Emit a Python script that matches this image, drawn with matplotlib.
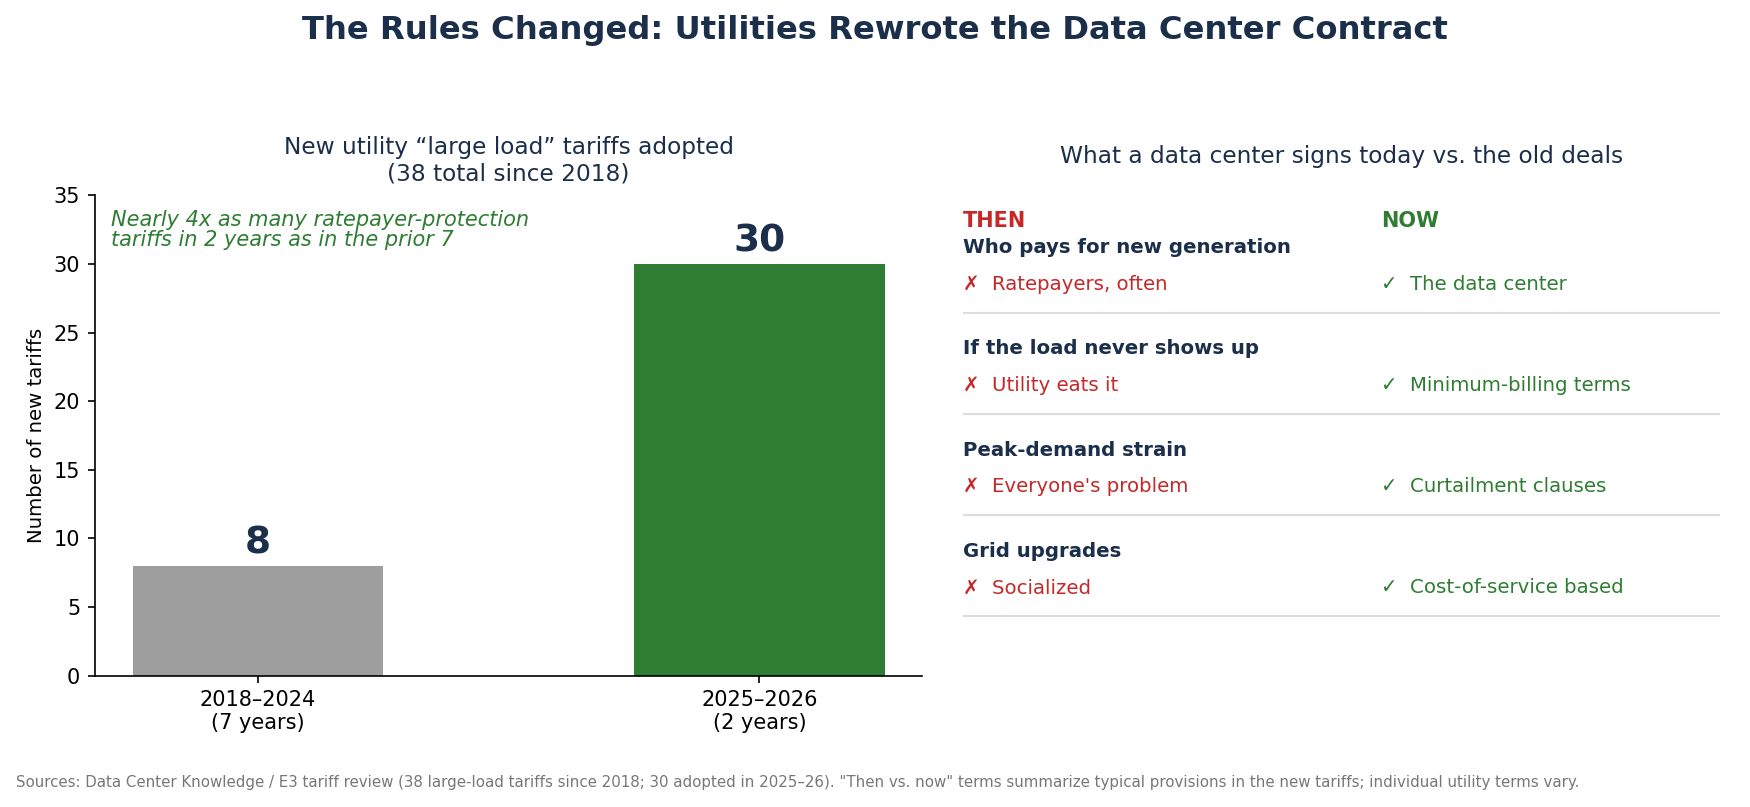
import matplotlib
matplotlib.use("Agg")
import matplotlib.pyplot as plt

# ---- data ----
periods = ["2018–2024\n(7 years)", "2025–2026\n(2 years)"]
tariff_counts = [8, 30]
bar_colors = ["#9e9e9e", "#2e7d32"]

topics = ["Who pays for new generation", "If the load never shows up",
          "Peak-demand strain", "Grid upgrades"]
then_terms = ["Ratepayers, often", "Utility eats it", "Everyone's problem", "Socialized"]
now_terms = ["The data center", "Minimum-billing terms", "Curtailment clauses",
             "Cost-of-service based"]

NAVY = "#1b2f4b"
RED = "#c62828"
GREEN = "#2e7d32"

DPI = 150
fig = plt.figure(figsize=(1750 / DPI, 807 / DPI), dpi=DPI)

# layout reference frame (relative units)
DW, DH = 1567.0, 722.7


def fx(x):
    return x / DW


def fy(y):
    return 1 - y / DH


fig.suptitle("The Rules Changed: Utilities Rewrote the Data Center Contract",
             fontsize=15.5, fontweight="bold", color=NAVY, y=fy(27), va="center")

# ---- left bar chart ----
ax = fig.add_axes([fx(85), fy(605), fx(826) - fx(85), fy(175) - fy(605)])
x = list(range(len(periods)))
ax.bar(x, tariff_counts, width=0.5, color=bar_colors)
for xi, v in zip(x, tariff_counts):
    ax.text(xi, v + 0.3, str(v), ha="center", va="bottom", fontsize=18,
            fontweight="bold", color=NAVY)
ax.set_xticks(x)
ax.set_xticklabels(periods, fontsize=10)
ax.set_ylim(0, 35)
ax.set_yticks(range(0, 36, 5))
ax.tick_params(axis="y", labelsize=10)
ax.set_ylabel("Number of new tariffs", fontsize=9.5)
ax.spines["top"].set_visible(False)
ax.spines["right"].set_visible(False)
ax.set_title("New utility \u201clarge load\u201d tariffs adopted\n(38 total since 2018)",
             fontsize=11.2, color=NAVY, pad=7)
ax.text(0.02, 0.97, "Nearly 4x as many ratepayer-protection\ntariffs in 2 years as in the prior 7",
        transform=ax.transAxes, ha="left", va="top", fontsize=10,
        style="italic", color=GREEN, linespacing=1.0)

# ---- right comparison panel ----
L, R = 862, 1540
rax = fig.add_axes([fx(L), fy(605), fx(R) - fx(L), fy(175) - fy(605)])
rax.set_xlim(L, R)
rax.set_ylim(605, 175)
rax.axis("off")
fig.text(fx((L + R) / 2), fy(140), "What a data center signs today vs. the old deals",
         ha="center", va="center", fontsize=11.2, color=NAVY)

now_x = 1237
rax.text(L, 198, "THEN", ha="left", va="center", fontsize=10, fontweight="bold", color=RED)
rax.text(now_x, 198, "NOW", ha="left", va="center", fontsize=10, fontweight="bold", color=GREEN)
for i, (tp, th, nw) in enumerate(zip(topics, then_terms, now_terms)):
    y0 = 222 + i * 90.5
    rax.text(L, y0, tp, ha="left", va="center", fontsize=9.5, fontweight="bold", color=NAVY)
    rax.text(L, y0 + 33, "\u2717  " + th, ha="left", va="center", fontsize=9.5, color=RED)
    rax.text(now_x, y0 + 33, "\u2713  " + nw, ha="left", va="center", fontsize=9.5, color=GREEN)
    rax.plot([L, R], [y0 + 58, y0 + 58], color="#dddddd", lw=1.0, solid_capstyle="butt")

fig.text(fx(14), fy(701),
         "Sources: Data Center Knowledge / E3 tariff review (38 large-load tariffs since 2018; "
         "30 adopted in 2025–26). \"Then vs. now\" terms summarize typical provisions in the new "
         "tariffs; individual utility terms vary.",
         ha="left", va="center", fontsize=7.2, color="#777777")

fig.savefig("out.png", dpi=DPI)
